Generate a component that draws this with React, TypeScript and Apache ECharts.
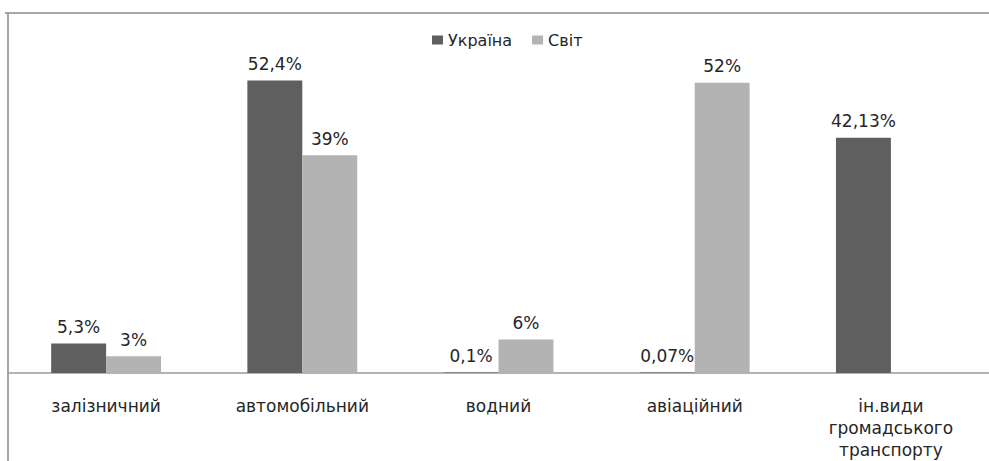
import React, { useEffect, useRef } from "react";
import * as echarts from "echarts";

const categories = ["залізничний", "автомобільний", "водний", "авіаційний", "ін.види\nгромадського\nтранспорту"];
const ukraine: (number | null)[] = [5.3, 52.4, 0.1, 0.07, 42.13];
const world: (number | null)[] = [3, 39, 6, 52, null];
const seriesNames = ["Україна", "Світ"];

const fmt = (v: number) => String(v).replace(".", ",") + "%";

export default function App() {
  const ref = useRef<HTMLDivElement>(null);
  useEffect(() => {
    const chart = echarts.init(ref.current!, null, { renderer: "svg" });
    const font = "DejaVu Sans";
    const labelCfg = {
      show: true,
      position: "top",
      distance: 8,
      fontSize: 17,
      color: "#262626",
      fontFamily: font,
      formatter: (p: any) => fmt(p.value),
    };
    chart.setOption({
      animation: false,
      backgroundColor: "#ffffff",
      textStyle: { fontFamily: font },
      legend: {
        top: 32,
        left: 432,
        itemWidth: 11,
        itemHeight: 9,
        itemGap: 20,
        icon: "rect",
        padding: 0,
        textStyle: { fontSize: 16, color: "#262626", fontFamily: font },
        data: seriesNames,
      },
      grid: { left: 8, right: -17, top: 38, bottom: 85, containLabel: false },
      xAxis: {
        type: "category",
        data: categories,
        axisLine: { lineStyle: { color: "#9a9a9a", width: 1.5 } },
        axisTick: { show: false },
        axisLabel: { fontSize: 17, color: "#262626", margin: 22, lineHeight: 22, fontFamily: font, interval: 0 },
      },
      yAxis: {
        type: "value",
        min: 0,
        max: 60,
        show: false,
        splitLine: { show: false },
      },
      series: [
        {
          name: seriesNames[0],
          type: "bar",
          data: ukraine,
          barGap: "0%",
          barCategoryGap: "44%",
          itemStyle: { color: "#5f5f5f" },
          label: labelCfg,
        },
        {
          name: seriesNames[1],
          type: "bar",
          data: world,
          itemStyle: { color: "#b3b3b3" },
          label: labelCfg,
        },
      ],
      graphic: [
        { type: "line", shape: { x1: 5, y1: 13, x2: 989, y2: 13 }, style: { stroke: "#8a8a8a", lineWidth: 1.5 } },
        { type: "line", shape: { x1: 8, y1: 13, x2: 8, y2: 461 }, style: { stroke: "#8a8a8a", lineWidth: 1.5 } },
      ],
    });
    return () => chart.dispose();
  }, []);
  return <div ref={ref} style={{ position: "absolute", left: 0, top: 0, width: 989, height: 461 }} />;
}
